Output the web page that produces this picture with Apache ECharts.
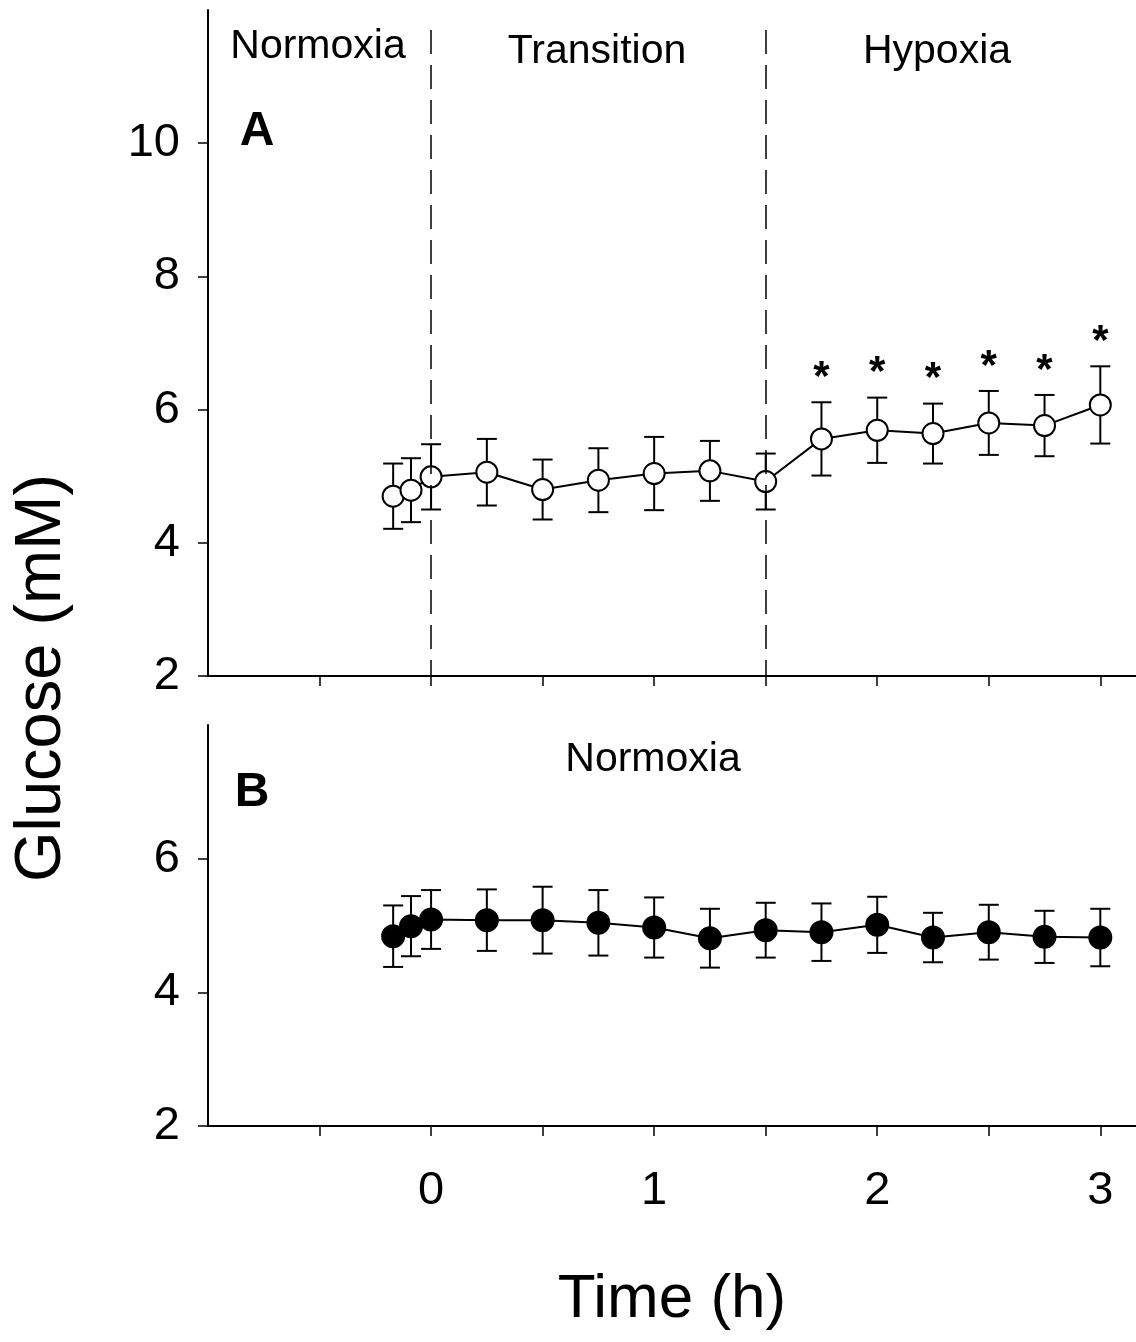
<!DOCTYPE html>
<html>
<head>
<meta charset="utf-8">
<script src="https://cdn.jsdelivr.net/npm/echarts@6/dist/echarts.min.js"></script>
<style>
  html, body { margin: 0; padding: 0; background: #fff; }
  #chart { width: 1136px; height: 1342px; }
</style>
</head>
<body>
<div id="chart"></div>
<script>
// ---- data ----
const times = [-0.17, -0.09, 0, 0.25, 0.5, 0.75, 1, 1.25, 1.5, 1.75, 2, 2.25, 2.5, 2.75, 3];
const glucoseA = [4.70, 4.79, 4.99, 5.06, 4.80, 4.94, 5.04, 5.08, 4.92, 5.56, 5.69, 5.64, 5.80, 5.76, 6.07];
const errA = [0.49, 0.48, 0.49, 0.50, 0.45, 0.48, 0.55, 0.45, 0.42, 0.55, 0.49, 0.45, 0.48, 0.46, 0.58];
const sigA = [0, 0, 0, 0, 0, 0, 0, 0, 0, 1, 1, 1, 1, 1, 1];
const glucoseB = [4.84, 4.99, 5.09, 5.08, 5.08, 5.04, 4.97, 4.81, 4.93, 4.90, 5.01, 4.82, 4.90, 4.83, 4.82];
const errB = [0.46, 0.45, 0.44, 0.46, 0.50, 0.49, 0.45, 0.44, 0.41, 0.43, 0.42, 0.37, 0.41, 0.39, 0.43];
const phaseBounds = [0, 1.5];
const xTicks = [-0.5, 0, 0.5, 1, 1.5, 2, 2.5, 3];
const xLabels = [0, 1, 2, 3];
const yTicksA = [2, 4, 6, 8, 10];
const yTicksB = [2, 4, 6];

const FONT = '"Liberation Sans", Arial, sans-serif';

const chart = echarts.init(document.getElementById('chart'), null, { renderer: 'canvas' });

function xAxisCfg(gridIndex, showLabels) {
  return {
    type: 'value', gridIndex, min: -1, max: 3.16,
    splitLine: { show: false },
    axisLine: { show: true, onZero: false, lineStyle: { color: '#000', width: 2 } },
    axisTick: { show: true, inside: false, length: 10, customValues: xTicks, lineStyle: { color: '#000', width: 1.5 } },
    axisLabel: {
      show: showLabels, customValues: xLabels, margin: 42,
      color: '#000', fontSize: 47, fontFamily: FONT
    }
  };
}
function yAxisCfg(gridIndex, max, ticks) {
  return {
    type: 'value', gridIndex, min: 2, max: max,
    splitLine: { show: false },
    axisLine: { show: true, onZero: false, lineStyle: { color: '#000', width: 2 } },
    axisTick: { show: true, inside: false, length: 10, customValues: ticks, lineStyle: { color: '#000', width: 1.5 } },
    axisLabel: { customValues: ticks, margin: 28, color: '#000', fontSize: 47, fontFamily: FONT }
  };
}

function errSeries(idx, vals, errs, sig) {
  const data = times.map((t, i) => [t, vals[i], errs[i], sig ? sig[i] : 0]);
  return {
    type: 'custom', xAxisIndex: idx, yAxisIndex: idx, z: 2,
    data,
    renderItem(params, api) {
      const x = api.value(0), y = api.value(1), e = api.value(2), s = api.value(3);
      const top = api.coord([x, y + e]);
      const bot = api.coord([x, y - e]);
      const hw = 10;
      const style = { stroke: '#000', lineWidth: 2 };
      const children = [
        { type: 'line', shape: { x1: top[0], y1: top[1], x2: bot[0], y2: bot[1] }, style },
        { type: 'line', shape: { x1: top[0] - hw, y1: top[1], x2: top[0] + hw, y2: top[1] }, style },
        { type: 'line', shape: { x1: bot[0] - hw, y1: bot[1], x2: bot[0] + hw, y2: bot[1] }, style }
      ];
      if (s) {
        children.push({
          type: 'text',
          style: { text: '*', x: top[0], y: top[1] - 24, align: 'center', verticalAlign: 'middle',
                   fontSize: 42, fontWeight: 'bold', fontFamily: FONT, fill: '#000' }
        });
      }
      return { type: 'group', children };
    }
  };
}

function lineSeries(idx, vals, filled) {
  return {
    type: 'line', xAxisIndex: idx, yAxisIndex: idx, z: 3,
    data: times.map((t, i) => [t, vals[i]]),
    symbol: 'circle', symbolSize: filled ? 22 : 21,
    lineStyle: { color: '#000', width: 2 },
    itemStyle: { color: filled ? '#000' : '#fff', borderColor: '#000', borderWidth: 2 },
    emphasis: { disabled: true },
    animation: false,
    markLine: filled ? undefined : {
      silent: true, symbol: 'none', label: { show: false },
      lineStyle: { color: '#000', width: 1.5, type: [24, 11] },
      data: phaseBounds.map(b => [{ coord: [b, 11.7] }, { coord: [b, 2] }])
    }
  };
}

function txt(x, y, text, size, bold, extra) {
  return Object.assign({
    type: 'text', x, y,
    style: { text, fontSize: size, fontWeight: bold ? 'bold' : 'normal', fontFamily: FONT,
             fill: '#000', align: 'center', verticalAlign: 'middle' }
  }, extra || {});
}

chart.setOption({
  animation: false,
  backgroundColor: '#fff',
  grid: [
    { left: 208, top: 10, width: 928, height: 666 },
    { left: 208, top: 725, width: 928, height: 401 }
  ],
  xAxis: [xAxisCfg(0, false), xAxisCfg(1, true)],
  yAxis: [yAxisCfg(0, 12, yTicksA), yAxisCfg(1, 8, yTicksB)],
  series: [
    errSeries(0, glucoseA, errA, sigA),
    lineSeries(0, glucoseA, false),
    errSeries(1, glucoseB, errB, null),
    lineSeries(1, glucoseB, true)
  ],
  graphic: [
    txt(318, 47, 'Normoxia', 41),
    txt(597, 52, 'Transition', 41),
    txt(937, 52, 'Hypoxia', 41),
    txt(257, 132, 'A', 48, true),
    txt(252, 793, 'B', 48, true),
    txt(653, 760, 'Normoxia', 41),
    txt(672, 1300, 'Time (h)', 62),
    txt(42, 678, 'Glucose (mM)', 65, false, { rotation: Math.PI / 2 })
  ]
});
</script>
</body>
</html>
